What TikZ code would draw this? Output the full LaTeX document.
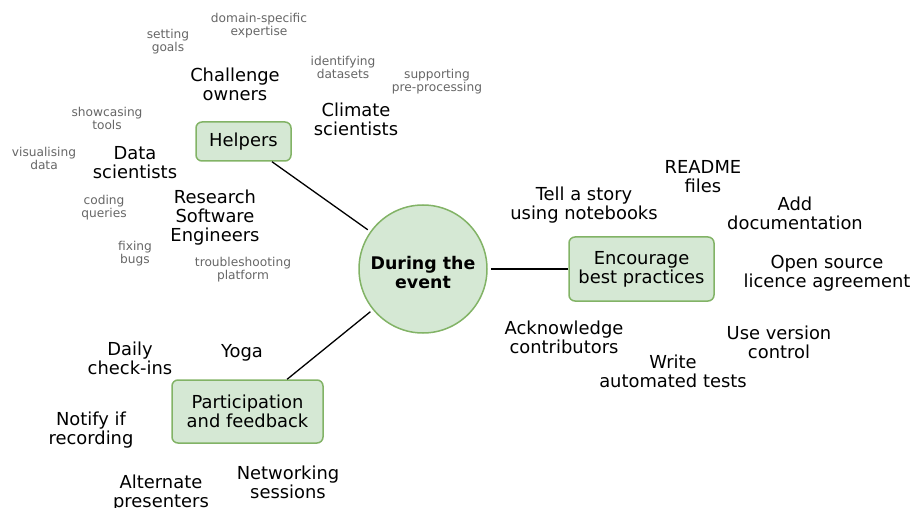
\documentclass[tikz,border=0pt]{standalone}
\usepackage{fontspec}
\setmainfont{DejaVu Sans}
\definecolor{boxfill}{HTML}{D5E8D4}
\definecolor{boxborder}{HTML}{82B366}
\definecolor{greytext}{HTML}{666666}
\tikzset{
  big/.style={font=\fontsize{17.9}{19}\selectfont, align=center, inner sep=0pt, text=black, yshift=-1.5pt},
  small/.style={font=\fontsize{12.2}{13}\selectfont, align=center, inner sep=0pt, text=greytext, yshift=-1pt},
  topic/.style={draw=boxborder, fill=boxfill, line width=1.5pt, rounded corners=6pt,
    inner sep=0pt, align=center, font=\fontsize{17.9}{19}\selectfont},
  hub/.style={circle, draw=boxborder, fill=boxfill, line width=1.5pt, minimum size=128pt,
    inner sep=0pt, align=center, font=\fontsize{17.4}{19}\selectfont\bfseries},
  conn/.style={draw=black, line width=1.3pt, shorten <=3pt}
}
\begin{document}
\begin{tikzpicture}[x=1pt, y=-1pt]
\useasboundingbox (0,0) rectangle (914,508);

% hub and topics
\node[hub] (hub) at (423,269) {};
\node[font=\fontsize{17.4}{19}\selectfont\bfseries, align=center, inner sep=0pt, yshift=-3.5pt] (hubtext) at (hub.center) {During the\\event};
\node[topic, minimum width=95pt, minimum height=39pt] (helpers) at (243.5,141.5) {Helpers};
\node[topic, minimum width=145pt, minimum height=64pt] (practices) at (641.5,269) {Encourage\\best practices};
\node[topic, minimum width=151pt, minimum height=63pt] (participation) at (247.5,411.5) {Participation\\and feedback};

\draw[conn] (hub) -- (helpers);
\draw[conn] (hub) -- (practices);
\draw[conn] (hub) -- (participation);

% helpers
\node[small] (domain) at (259,25) {domain-specific\\expertise};
\node[small] (goals) at (168,41) {setting\\goals};
\node[big] (challenge) at (235,82.5) {Challenge\\owners};
\node[small] (identify) at (343,66.5) {identifying\\datasets};
\node[small] (preproc) at (437,81) {supporting\\pre-processing};
\node[big] (climate) at (356,118) {Climate\\scientists};
\node[small] (showcase) at (107,117.5) {showcasing\\tools};
\node[small] (visual) at (44,157.5) {visualising\\data};
\node[big] (datasci) at (135,161.5) {Data\\scientists};
\node[small] (coding) at (104,206.5) {coding\\queries};
\node[big] (rse) at (215,216.5) {Research\\Software\\Engineers};
\node[small] (bugs) at (135,252.5) {fixing\\bugs};
\node[small] (trouble) at (243,269) {troubleshooting\\platform};

% best practices
\node[big] (story) at (584,204) {Tell a story\\using notebooks};
\node[big] (readme) at (703,175) {README\\files};
\node[big] (docs) at (795,212) {Add\\documentation};
\node[big] (licence) at (827,271.5) {Open source\\licence agreement};
\node[big] (ack) at (564,336) {Acknowledge\\contributors};
\node[big] (version) at (779,341) {Use version\\control};
\node[big] (tests) at (673,370) {Write\\automated tests};

% participation
\node[big] (daily) at (130,356.5) {Daily\\check-ins};
\node[big] (yoga) at (242,351.5) {Yoga};
\node[big] (notify) at (91,428.5) {Notify if\\recording};
\node[big] (alternate) at (161,491.5) {Alternate\\presenters};
\node[big] (network) at (288,481) {Networking\\sessions};
\end{tikzpicture}
\end{document}
